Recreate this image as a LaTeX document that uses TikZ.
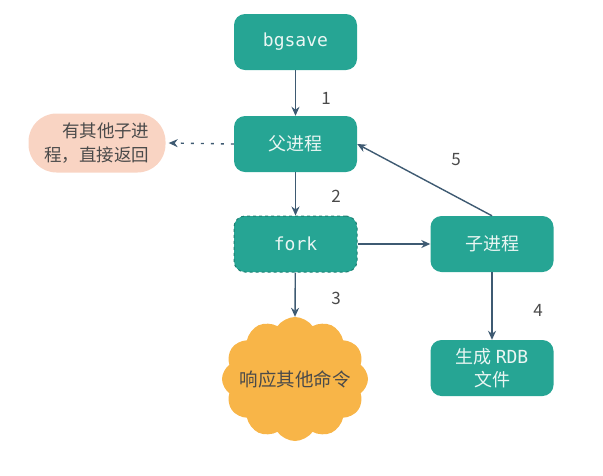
\documentclass[tikz,border=0pt]{standalone}
\usepackage{fontspec}
\setmainfont{Noto Sans CJK SC}
\newfontfamily\cjk{Noto Sans CJK SC}
\newfontfamily\monof{DejaVu Sans Mono}
\usetikzlibrary{shapes.symbols,arrows.meta}
\definecolor{teal1}{HTML}{26A594}
\definecolor{tealdark}{HTML}{1B7F72}
\definecolor{pinkf}{HTML}{F9D4C3}
\definecolor{orangef}{HTML}{F8B548}
\definecolor{arrowc}{HTML}{3E5A72}
\definecolor{txtlight}{HTML}{EAF6F3}
\definecolor{txtdark}{HTML}{4A4A4A}
\begin{document}
\begin{tikzpicture}[x=1pt,y=-1pt,
  box/.style={fill=teal1, draw=none, rounded corners=11pt, minimum width=123pt, minimum height=56pt,
    text=txtlight, font=\fontsize{18}{23}\selectfont\cjk, align=center, inner sep=0pt},
  dashbox/.style={box, draw=tealdark, dashed, line width=1pt},
  arr/.style={draw=arrowc, line width=1.4pt, -{Stealth[length=9pt,width=8pt]}},
  num/.style={text=txtdark, font=\fontsize{17}{20}\selectfont\cjk}
]
\useasboundingbox (0,0) rectangle (603,475);
\node[box] (bg) at (295.5,42) {\monof bgsave};
\node[box] (fu) at (295.5,144) {父进程};
\node[dashbox] (fork) at (295.5,244) {\monof fork};
\node[box] (zi) at (492,244) {子进程};
\node[box] (rdb) at (492,368) {生成 {\monof RDB}\\文件};
\node[fill=pinkf, rounded corners=28pt, minimum width=137pt, minimum height=59pt,
  text=txtdark, font=\fontsize{17.5}{24}\selectfont\cjk, align=right, inner sep=0pt] (pink) at (97,143)
  {有其他子进\\程，直接返回};
\node[cloud, cloud puffs=12, cloud puff arc=110, aspect=1.1, fill=orangef, draw=none,
  minimum width=146pt, minimum height=124pt, inner sep=0pt] (cl) at (295,379) {};
\node[text=txtdark, font=\fontsize{18.5}{22}\selectfont\cjk] (cltext) at (cl.center) {响应其他命令};
\draw[arr] (bg) -- (fu);
\draw[arr] (fu) -- (fork);
\draw[arr] (fork) -- (cl.north);
\draw[arr] (fork) -- (zi);
\draw[arr] (zi) -- (rdb);
\draw[arr] (zi.north) -- (fu.east);
\draw[arr, dash pattern=on 3pt off 7pt] (fu.west) -- ([xshift=3pt]pink.east);
\node[num] (n1) at (326,98) {1};
\node[num] (n2) at (336,196) {2};
\node[num] (n3) at (336,298) {3};
\node[num] (n4) at (538,310) {4};
\node[num] (n5) at (456,160) {5};
\end{tikzpicture}
\end{document}
